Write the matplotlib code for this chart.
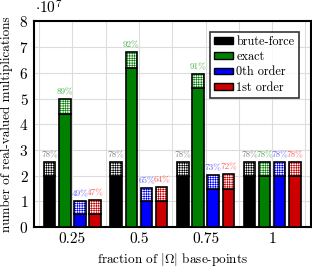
import numpy as np
import matplotlib
matplotlib.use("Agg")
import matplotlib.pyplot as plt
from matplotlib.patches import Patch

groups = [0.25, 0.5, 0.75, 1.0]
series = ["brute-force", "exact", "0th order", "1st order"]
colors = ["#000000", "#008000", "#0000ff", "#cc0000"]
label_colors = ["#808080", "#4caf4c", "#6a6aff", "#ff5c5c"]

# totals (x1e7) and the non-hatched (solid) part
totals = {
    "brute-force": [2.55, 2.55, 2.55, 2.55],
    "exact": [5.00, 6.80, 5.97, 2.55],
    "0th order": [1.03, 1.53, 2.04, 2.55],
    "1st order": [1.07, 1.56, 2.07, 2.55],
}
solid = {
    "brute-force": [2.0, 2.0, 2.0, 2.0],
    "exact": [4.40, 6.20, 5.40, 2.0],
    "0th order": [0.50, 1.00, 1.50, 2.0],
    "1st order": [0.51, 1.00, 1.50, 2.0],
}
pct = {
    "brute-force": ["78%", "78%", "78%", "78%"],
    "exact": ["89%", "92%", "91%", "78%"],
    "0th order": ["49%", "65%", "73%", "78%"],
    "1st order": ["47%", "64%", "72%", "78%"],
}

plt.rcParams["font.family"] = "cmr10"
plt.rcParams["mathtext.fontset"] = "cm"
plt.rcParams["axes.formatter.use_mathtext"] = True
plt.rcParams["hatch.linewidth"] = 0.45

fig = plt.figure(figsize=(3.12, 2.67), dpi=100)
ax = fig.add_axes([0.109, 0.149, 0.888, 0.771])

offsets = [-0.0855, -0.0285, 0.0285, 0.0855]
width = 0.043
x = np.array(groups)
for i, s in enumerate(series):
    xs = x + offsets[i]
    sol = np.array(solid[s])
    tot = np.array(totals[s])
    ax.bar(xs, sol, width, color=colors[i], edgecolor="black", linewidth=1.2, zorder=3)
    ax.bar(xs, tot - sol, width, bottom=sol, facecolor="white", edgecolor=colors[i],
           hatch="+" * 7, linewidth=0, zorder=3)
    ax.bar(xs, tot - sol, width, bottom=sol, fill=False, edgecolor="black",
           linewidth=1.2, zorder=4)
    for xi, t, lab in zip(xs, tot, pct[s]):
        ax.text(xi, t + 0.1, lab, ha="center", va="bottom", fontsize=6.6,
                color=label_colors[i], zorder=5)

ax.set_xlim(0.106, 1.146)
ax.set_ylim(0, 8)
ax.set_xticks(groups)
ax.set_xticklabels(["0.25", "0.5", "0.75", "1"])
ax.set_xticks(np.arange(0.125, 1.13, 0.125), minor=True)
ax.set_yticks(range(0, 9))
ax.tick_params(which="both", length=0, labelsize=11, pad=4)
ax.grid(which="both", axis="x", color="#dddddd", linewidth=0.8, zorder=0)
ax.grid(which="major", axis="y", color="#dddddd", linewidth=0.8, zorder=0)
ax.set_axisbelow(True)
for sp in ax.spines.values():
    sp.set_linewidth(1.5)

ax.set_xlabel(r"fraction of $|\Omega|$ base-points", fontsize=9.5, labelpad=3)
ax.set_ylabel("number of real-valued multiplications", fontsize=9.5, labelpad=4)
fig.text(0.112, 0.948, r"$\cdot 10^7$", fontsize=11, ha="left", va="baseline")

handles = [Patch(facecolor=c, edgecolor="black", linewidth=1.0) for c in colors]
leg = ax.legend(handles, series, loc="upper right", fontsize=8.8, frameon=True,
                fancybox=False, edgecolor="black", handlelength=1.5, handleheight=0.5,
                handletextpad=0.3, labelspacing=0.25, borderpad=0.35,
                bbox_to_anchor=(0.978, 0.98))
leg.get_frame().set_linewidth(1.2)
leg.set_zorder(10)

fig.savefig("out.png", dpi=100)
